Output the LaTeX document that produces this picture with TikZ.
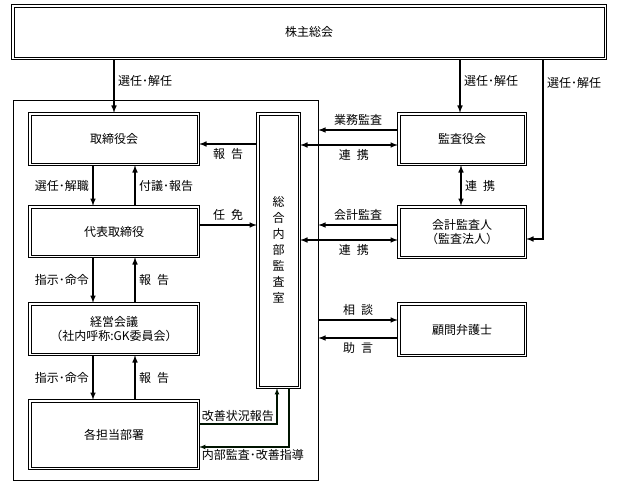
\documentclass[tikz,border=0pt]{standalone}
\usepackage{fontspec}
\setmainfont{Noto Sans CJK JP}
\usetikzlibrary{arrows,positioning}

\begin{document}
\begin{tikzpicture}[x=1pt,y=-1pt,
		every node/.style={font=\fontsize{12}{14}\selectfont},
		orgbox/.style={inner sep=0pt,align=center},
		arr/.style={-latex,line width=1.5pt},
		both/.style={latex-latex,line width=1.5pt},
		fine/.style={-latex,line width=1.1pt,draw=black!92!green}]
				\useasboundingbox (0,0) rectangle (618,492);
				\draw (165.5,290) node[draw=black,line width=0.7pt,minimum width=305pt,minimum height=380pt] (frame) {};
				
				\draw (309,32) node[orgbox,minimum width=594pt,minimum height=54pt] (kabu) {株主総会};
				\draw (114,139) node[orgbox,minimum width=170pt,minimum height=52pt] (tori) {取締役会};
				\draw (114,231.5) node[orgbox,minimum width=170pt,minimum height=51pt] (daihyo) {代表取締役};
				\draw (114,329) node[orgbox,minimum width=170pt,minimum height=52pt] (keiei) {経営会議\\（社内呼称:GK委員会）};
				\draw (114,434.5) node[orgbox,minimum width=170pt,minimum height=69pt] (kaku) {各担当部署};
				\draw (278.5,250.5) node[orgbox,minimum width=43pt,minimum height=275pt] (sogo) {};
				\node[align=center,font=\fontsize{12}{16}\selectfont] (sogotxt) at (278.5,250) {総\\合\\内\\部\\監\\査\\室};
				\draw (462,139) node[orgbox,minimum width=128pt,minimum height=52pt] (kansa) {監査役会};
				\draw (462,232) node[orgbox,minimum width=128pt,minimum height=52pt] (kaikei) {会計監査人\\（監査法人）};
				\draw (462,329.5) node[orgbox,minimum width=128pt,minimum height=53pt] (komon) {顧問弁護士};
				\coordinate (c1) at (543,239);
				
				% double borders
				\foreach \b in {kabu,tori,daihyo,keiei,kaku,sogo,kansa,kaikei,komon} {
					\draw[line width=0.7pt] (\b.north west) rectangle (\b.south east);
					\draw[line width=0.7pt] ([shift={(2.2,2.2)}]\b.north west) rectangle ([shift={(-2.2,-2.2)}]\b.south east);
				}
				
				\draw[arr] (kabu.south -| tori) -- (tori.north) node[pos=0.4,right] {選任･解任};
				\draw[arr] (kabu.south -| 460,0) -- (kansa.north -| 460,0) node[pos=0.4,right] {選任･解任};
				\draw[arr] (kabu.south -| c1) -- (c1) node[pos=0.13,right] {選任･解任} -- (c1 -| kaikei.east);
				
				\draw[arr] ([xshift=-21pt]tori.south) -- ([xshift=-21pt]daihyo.north) node[midway,left] {選任･解職};
				\draw[arr] ([xshift=21pt]daihyo.north) -- ([xshift=21pt]tori.south) node[midway,right] {付議･報告};
				\draw[arr] ([xshift=-21pt]daihyo.south) -- ([xshift=-21pt]keiei.north) node[midway,left] {指示･命令};
				\draw[arr] ([xshift=21pt]keiei.north) -- ([xshift=21pt]daihyo.south) node[midway,right] {報\enspace 告};
				\draw[arr] ([xshift=-21pt]keiei.south) -- ([xshift=-21pt]kaku.north) node[midway,left] {指示･命令};
				\draw[arr] ([xshift=21pt]kaku.north) -- ([xshift=21pt]keiei.south) node[midway,right] {報\enspace 告};
				
				\draw[arr] (sogo.west |- 0,144) -- (tori.east |- 0,144) node[midway,below] {報\enspace 告};
				\draw[arr] (daihyo.east |- 0,225) -- (sogo.west |- 0,225) node[midway,above] {任\enspace 免};
				
				\draw[arr] (kansa.west |- 0,130) -- (frame.east |- 0,130) node[midway,above] {業務監査};
				\draw[both] (sogo.east |- 0,145) -- (kansa.west |- 0,145) node[pos=0.55,below] {連\enspace 携};
				\draw[both] (kansa.south -| 461,0) -- (kaikei.north -| 461,0) node[midway,right] {連\enspace 携};
				\draw[arr] (kaikei.west |- 0,225) -- (frame.east |- 0,225) node[midway,above] {会計監査};
				\draw[both] (sogo.east |- 0,240) -- (kaikei.west |- 0,240) node[pos=0.55,below] {連\enspace 携};
				\draw[arr] (frame.east |- 0,320) -- (komon.west |- 0,320) node[midway,above] {相\enspace 談};
				\draw[arr] (komon.west |- 0,338) -- (frame.east |- 0,338) node[midway,below] {助\enspace 言};
				
				\draw[fine] (kaku.east |- 0,424) node[above right,inner sep=2pt] {改善状況報告} -- (277,424) -- (sogo.south -| 277,0);
				\draw[fine] (sogo.south -| 289,0) -- (289,447) -- (kaku.east |- 0,447) node[below right,inner sep=2pt] {内部監査･改善指導};
			\end{tikzpicture}
\end{document}
